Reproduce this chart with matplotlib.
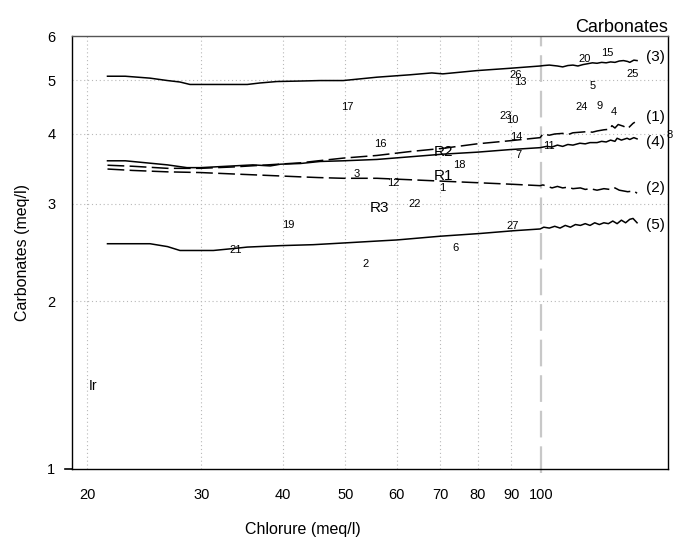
import matplotlib
matplotlib.use("Agg")
import matplotlib.pyplot as plt
from matplotlib.ticker import FixedLocator, NullLocator

plt.rcParams['font.family'] = ['Liberation Sans', 'DejaVu Sans']

# courbe (3)
x3 = [21.5, 22.9, 25.0, 26.6, 27.8, 28.8, 29.9, 33.6, 35.3, 36.9, 39.2, 42.6, 45.7,
      49.6, 55.9, 62.8, 67.9, 70.6, 79.7, 89.6, 99.7, 101, 103, 106, 108, 110, 112,
      114, 116, 118, 120, 122, 124, 126, 128, 130, 132, 134, 136, 137, 139, 140.6]
y3 = [5.08, 5.08, 5.04, 4.99, 4.96, 4.91, 4.91, 4.91, 4.91, 4.94, 4.97, 4.98, 4.99,
      4.99, 5.06, 5.11, 5.15, 5.13, 5.20, 5.25, 5.30, 5.31, 5.32, 5.30, 5.28, 5.31, 5.32,
      5.30, 5.33, 5.35, 5.37, 5.36, 5.38, 5.37, 5.39, 5.38, 5.41, 5.42, 5.40, 5.38, 5.43, 5.42]

# courbe (4)
x4 = [21.5, 22.9, 26.6, 28.5, 29.9, 33.6, 36.0, 38.3, 39.7, 42.6, 45.7, 49.6, 55.9,
      62.9, 70.7, 79.7, 89.6, 99.7, 102, 104, 106, 108, 110, 112, 114.8, 117, 119,
      122, 124, 126, 128, 130, 131, 133, 135.7, 137, 139, 140.6]
y4 = [3.58, 3.58, 3.52, 3.48, 3.48, 3.505, 3.52, 3.505, 3.53, 3.54, 3.57, 3.58, 3.60,
      3.64, 3.68, 3.71, 3.75, 3.78, 3.80, 3.79, 3.82, 3.80, 3.83, 3.82, 3.85, 3.84, 3.86,
      3.86, 3.88, 3.87, 3.90, 3.88, 3.93, 3.90, 3.93, 3.91, 3.94, 3.92]

# courbe (1)
x1 = [21.5, 23.5, 26.6, 29.9, 33.6, 37.9, 42.6, 45.4, 49.6, 55.9, 62.9, 70.7, 79.7,
      89.6, 99.7, 100.7, 103, 105, 108, 110, 112, 115, 118, 120, 122, 125, 127.7,
      128.6, 130, 131.5, 134, 136, 138.6, 139.5]
y1 = [3.515, 3.50, 3.47, 3.47, 3.49, 3.52, 3.55, 3.58, 3.62, 3.66, 3.72, 3.77, 3.84,
      3.89, 3.94, 4.00, 3.98, 4.00, 4.01, 3.99, 4.02, 4.03, 4.04, 4.03, 4.05, 4.07, 4.08,
      4.14, 4.10, 4.16, 4.13, 4.09, 4.18, 4.20]

# courbe (2)
x2 = [21.5, 23.5, 26.6, 29.9, 33.6, 37.9, 42.6, 45.4, 49.6, 55.9, 62.9, 70.7, 79.7,
      89.6, 99.7, 100.7, 104, 106, 108, 110, 112, 115, 117, 119, 122, 125, 127.7,
      129, 130, 132, 134, 136, 139, 140.6]
y2 = [3.46, 3.44, 3.42, 3.41, 3.39, 3.37, 3.35, 3.34, 3.33, 3.33, 3.31, 3.29, 3.27,
      3.25, 3.23, 3.24, 3.20, 3.22, 3.20, 3.21, 3.19, 3.20, 3.18, 3.19, 3.17, 3.19, 3.18,
      3.18, 3.20, 3.17, 3.16, 3.15, 3.16, 3.13]

# courbe (5)
x5 = [21.5, 25.0, 26.6, 27.8, 29.9, 31.3, 33.6, 35.3, 39.7, 44.6, 50.3, 56.5, 60.0,
      69.9, 80.6, 90.6, 99.7, 101, 103, 105, 107, 109, 111, 113, 115, 117, 119, 121,
      123, 125, 127, 129, 131, 133, 135, 137, 138.6, 140.6]
y5 = [2.54, 2.54, 2.51, 2.47, 2.47, 2.47, 2.49, 2.505, 2.52, 2.53, 2.55, 2.57, 2.58,
      2.62, 2.65, 2.68, 2.70, 2.72, 2.71, 2.73, 2.71, 2.74, 2.72, 2.75, 2.74, 2.76, 2.74,
      2.77, 2.75, 2.77, 2.76, 2.79, 2.76, 2.80, 2.77, 2.81, 2.82, 2.77]

# numeros des echantillons
pt_lbl = ['17', '16', '3', '12', '1', '18', '22', '19', '21', '2', '6', '27', '23', '10',
          '14', '7', '11', '26', '13', '20', '15', '25', '5', '24', '9', '4', '8']
pt_x = [50.3, 56.5, 52.1, 59.2, 70.4, 75.0, 64.0, 40.8, 33.9, 53.6, 73.8, 90.3, 88.3, 90.3,
        91.5, 92.2, 102.9, 91.5, 92.9, 116.8, 126.3, 138.6, 120.2, 115.6, 123.3, 129.5, 158.0]
pt_y = [4.47, 3.84, 3.39, 3.26, 3.20, 3.52, 2.99, 2.74, 2.48, 2.34, 2.50, 2.73, 4.31, 4.24,
        3.95, 3.66, 3.80, 5.11, 4.96, 5.46, 5.60, 5.13, 4.88, 4.47, 4.49, 4.38, 3.98]

# references
ref_lbl = ['R2', 'R1', 'R3']
ref_x = [70.7, 70.7, 56.5]
ref_y = [3.71, 3.36, 2.95]

curve_lbl = ['(3)', '(1)', '(4)', '(2)', '(5)']
curve_y = [5.50, 4.29, 3.87, 3.20, 2.75]

xticks = [20, 30, 40, 50, 60, 70, 80, 90, 100]
yticks = [1, 2, 3, 4, 5, 6]

fig = plt.figure(figsize=(6.77, 5.44), dpi=100)
ax = fig.add_axes([0.1064, 0.1379, 0.8803, 0.7959])
ax.set_xscale('log')
ax.set_yscale('log')
ax.set_xlim(18.96, 156.9)
ax.set_ylim(1, 6)

for g in xticks[:-1]:
    ax.axvline(g, color='#b8b8b8', linestyle=(0, (1, 2.5)), linewidth=0.8, zorder=0)
for g in yticks[1:-1]:
    ax.axhline(g, color='#b8b8b8', linestyle=(0, (1, 2.5)), linewidth=0.8, zorder=0)
ax.plot([100, 100], [0.985, 6], color='#c8c8c8', linestyle=(0, (12, 4)), linewidth=1.6,
        clip_on=False, zorder=1)
ax.plot([18.5, 18.96], [1, 1], color='black', linewidth=1.2, clip_on=False)

dash = (0, (11, 3.5))
ax.plot(x3, y3, color='black', linewidth=1.1)
ax.plot(x4, y4, color='black', linewidth=1.1)
ax.plot(x1, y1, color='black', linewidth=1.1, linestyle=dash)
ax.plot(x2, y2, color='black', linewidth=1.1, linestyle=dash)
ax.plot(x5, y5, color='black', linewidth=1.1)

for s, x, y in zip(pt_lbl, pt_x, pt_y):
    ax.text(x, y, s, fontsize=8, ha='center', va='center', clip_on=False)
for s, x, y in zip(ref_lbl, ref_x, ref_y):
    ax.text(x, y, s, fontsize=11, ha='center', va='center')
for s, y in zip(curve_lbl, curve_y):
    ax.text(150, y, s, fontsize=11, ha='center', va='center')
ax.text(20.1, 1.41, 'Ir', fontsize=10, ha='left', va='center')

ax.xaxis.set_major_locator(FixedLocator(xticks))
ax.xaxis.set_minor_locator(NullLocator())
ax.set_xticklabels([str(t) for t in xticks])
ax.yaxis.set_major_locator(FixedLocator(yticks))
ax.yaxis.set_minor_locator(NullLocator())
ax.set_yticklabels([str(t) for t in yticks])
ax.tick_params(axis='both', length=0, labelsize=10.5)
ax.tick_params(axis='x', pad=14)
ax.tick_params(axis='y', pad=12)

for sp in ax.spines.values():
    sp.set_linewidth(1.0)
    sp.set_color('black')
ax.spines['top'].set_color('#555555')

ax.set_title('Carbonates', loc='right', fontsize=13, pad=3)
ax.set_ylabel('Carbonates (meq/l)', fontsize=11.5)
ax.set_xlabel('Chlorure (meq/l)', fontsize=11.5)
ax.xaxis.set_label_coords(0.387, -0.123)
ax.yaxis.set_label_coords(-0.07, 0.5)

fig.savefig('out.png', dpi=100)
